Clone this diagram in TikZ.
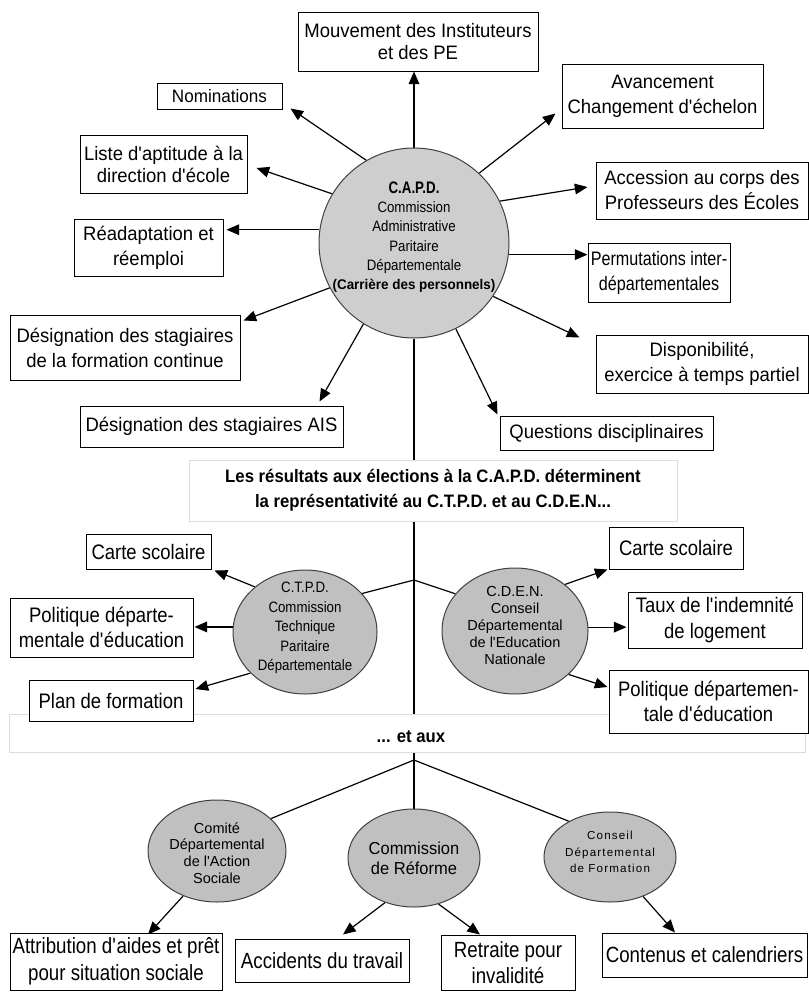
\documentclass[tikz,border=0pt]{standalone}
\usepackage{fontspec}
\setmainfont{Liberation Sans}
\newfontfamily\topf[FakeStretch=0.95]{Liberation Sans}
\newfontfamily\permf[FakeStretch=0.83]{Liberation Sans}
\newfontfamily\narf[FakeStretch=0.88]{Liberation Sans}
\newfontfamily\botf[FakeStretch=0.85]{Liberation Sans}
\newfontfamily\condf[FakeStretch=0.8]{Liberation Sans}
\newfontfamily\condg[FakeStretch=0.93]{Liberation Sans}
\newfontfamily\capdb[FakeStretch=0.96]{Liberation Sans}
\newfontfamily\spacedf[LetterSpace=10]{Liberation Sans}
\newcommand\ap{\textquotesingle}
\usetikzlibrary{arrows.meta,shapes.geometric,calc}
\pgfdeclarelayer{bg}
\pgfsetlayers{bg,main}
\definecolor{capdgray}{RGB}{206,206,206}
\definecolor{ellgray}{RGB}{192,192,192}
\definecolor{bannerline}{RGB}{220,220,220}
\tikzset{
  boxbase/.style={draw=black, line width=0.75pt, fill=white, inner sep=0pt, align=center},
  topbox/.style={boxbase, font=\topf\fontsize{14.6}{18.75}\selectfont},
  midbox/.style={boxbase, font=\narf\fontsize{15.75}{19}\selectfont},
  botbox/.style={boxbase, font=\botf\fontsize{16.5}{20}\selectfont},
  ell/.style={ellipse, draw=black!75, line width=0.75pt, fill=ellgray, inner sep=0pt},
  etext/.style={align=center, inner sep=0pt},
  banner/.style={draw=bannerline, line width=0.75pt, fill=white, inner sep=0pt, align=center},
  arr/.style={line width=0.9pt, -{Triangle[length=9.5pt,width=8pt]}},
  ln/.style={line width=0.9pt}
}
\begin{document}
\begin{tikzpicture}[x=0.75pt,y=-0.75pt]
\useasboundingbox (0,0) rectangle (809,992);

% ---------- C.A.P.D. ----------
\node[ell, fill=capdgray, minimum width=142.5pt, minimum height=142.5pt] (capd) at (414,243) {};
\node[etext, font=\narf\fontsize{11.3}{14.5}\selectfont] (capdt) at (414,237)
  {{\condf\bfseries\fontsize{12.5}{14.5}\selectfont C.A.P.D.}\\Commission\\Administrative\\Paritaire\\Départementale\\{\capdb\bfseries\fontsize{10.5}{14.5}\selectfont(Carrière des personnels)}};

\node[topbox, minimum width=180pt, minimum height=44.25pt, font=\topf\fontsize{14.6}{16.5}\selectfont] (mouv) at (418,41.5) {Mouvement des Instituteurs\\et des PE};
\node[topbox, minimum width=93.75pt, minimum height=19.5pt, font=\topf\fontsize{13.5}{16}\selectfont] (nomin) at (219.5,96) {Nominations};
\node[topbox, minimum width=125.25pt, minimum height=43.5pt, font=\topf\fontsize{14.6}{16.5}\selectfont] (liste) at (163.5,164) {Liste d\ap aptitude à la\\direction d\ap école};
\node[topbox, minimum width=111.75pt, minimum height=42.75pt] (read) at (148.5,247.5) {Réadaptation et\\réemploi};
\node[topbox, minimum width=172.5pt, minimum height=48.75pt] (formc) at (125,347.5) {Désignation des stagiaires\\de la formation continue};
\node[topbox, minimum width=197.25pt, minimum height=30.75pt] (ais) at (211.5,426.5) {Désignation des stagiaires AIS};
\node[topbox, minimum width=150.75pt, minimum height=48pt] (avanc) at (662.5,96) {Avancement\\Changement d\ap échelon};
\node[topbox, minimum width=159pt, minimum height=42.75pt] (access) at (702,190.5) {Accession au corps des\\Professeurs des Écoles};
\node[topbox, minimum width=106.5pt, minimum height=44.25pt, font=\permf\fontsize{14.6}{18.75}\selectfont] (perm) at (659,272.5) {Permutations inter-\\départementales};
\node[topbox, minimum width=159pt, minimum height=43.5pt] (dispo) at (702,364) {Disponibilité,\\exercice à temps partiel};
\node[topbox, minimum width=159.75pt, minimum height=25.5pt] (quest) at (606.5,433) {Questions disciplinaires};

% ---------- banner 1 ----------
\node[banner, minimum width=366pt, minimum height=45.75pt, font=\condg\bfseries\fontsize{13.5}{18.75}\selectfont] (ban1) at (433,490.5)
  {Les résultats aux élections à la C.A.P.D. déterminent\\la représentativité au C.T.P.D. et au C.D.E.N...};

% ---------- C.T.P.D. / C.D.E.N. ----------
\coordinate (j1) at (414,580);
\node[ell, minimum width=108pt, minimum height=93pt] (ctpd) at (305,632) {};
\node[etext, font=\narf\fontsize{11.3}{14.6}\selectfont] (ctpdt) at (305,628)
  {C.T.P.D.\\Commission\\Technique\\Paritaire\\Départementale};
\node[ell, minimum width=109.5pt, minimum height=94.5pt] (cden) at (515,631) {};
\node[etext, font=\fontsize{10.9}{12.75}\selectfont] (cdent) at (515,625)
  {C.D.E.N.\\Conseil\\Départemental\\de l\ap Education\\Nationale};

% ---------- banner 2 ----------
\node[banner, minimum width=597pt, minimum height=28.5pt] (ban2) at (407,733) {};
\node[etext, font=\condg\bfseries\fontsize{13.5}{16}\selectfont] (ban2t) at (411,737) {... et aux};

\node[midbox, minimum width=93.75pt, minimum height=26.25pt] (carteL) at (148.5,551.5) {Carte scolaire};
\node[midbox, minimum width=137.25pt, minimum height=44.25pt] (polL) at (101.5,627.5) {Politique départe-\\mentale d\ap éducation};
\node[midbox, minimum width=123pt, minimum height=30.75pt] (plan) at (111,700.5) {Plan de formation};
\node[midbox, minimum width=100.5pt, minimum height=31.5pt] (carteR) at (676,548) {Carte scolaire};
\node[midbox, minimum width=130.5pt, minimum height=42pt] (taux) at (715,620) {Taux de l\ap indemnité\\de logement};
\node[midbox, minimum width=149.25pt, minimum height=47.25pt] (polR) at (708.5,701.5) {Politique départemen-\\tale d\ap éducation};

% ---------- bottom ----------
\coordinate (j2) at (414,760);
\node[ell, minimum width=103.5pt, minimum height=76.5pt] (comite) at (217,851) {};
\node[etext, font=\fontsize{10.9}{12.5}\selectfont] (comitet) at (217,853)
  {Comité\\Départemental\\de l\ap Action\\Sociale};
\node[ell, minimum width=99pt, minimum height=73.5pt] (reforme) at (414,858) {};
\node[etext, font=\topf\fontsize{13}{15}\selectfont] (reformet) at (414,858)
  {Commission\\de Réforme};
\node[ell, minimum width=99pt, minimum height=67.5pt] (conseil) at (610,857) {};
\node[etext, font=\spacedf\fontsize{8.7}{12.4}\selectfont] (conseilt) at (610,852)
  {Conseil\\Départemental\\de Formation};

\node[botbox, minimum width=159pt, minimum height=42.75pt] (attrib) at (116,961.5) {Attribution d\ap aides et prêt\\pour situation sociale};
\node[botbox, minimum width=130.5pt, minimum height=32.25pt] (accid) at (322,960.5) {Accidents du travail};
\node[botbox, minimum width=100.5pt, minimum height=41.25pt] (retr) at (508,962.5) {Retraite pour\\invalidité};
\node[botbox, minimum width=153.75pt, minimum height=33pt] (cont) at (704.5,955) {Contenus et calendriers};

% ---------- connectors ----------
\begin{pgfonlayer}{bg}
\draw[ln] (capd.south) -- (j1) -- (j2) -- (reforme.north);
\draw[ln] (ctpd.34) -- (j1) -- (cden.148);
\draw[ln] (comite.31) -- (j2) -- (conseil.139);

\draw[arr] (capd.north) -- (capd.north |- mouv.south);
\draw[arr] (capd.120) -- ($(nomin.south east)+(8,-1)$);
\draw[arr] (capd.149) -- ($(liste.east)+(9,4)$);
\draw[arr] (capd.172) -- ($(read.east |- capd.172)+(3,0)$);
\draw[arr] (capd.208) -- ($(formc.north east)+(3,6)$);
\draw[arr] (capd.238) -- ($(ais.north east)+(-24,-4)$);
\draw[arr] (capd.47) -- ($(avanc.south west)+(-6,-15)$);
\draw[arr] (capd.26) -- ($(access.west)+(-8,-3.5)$);
\draw[arr] (capd.353) -- (perm.west |- capd.353);
\draw[arr] (capd.326) -- ($(dispo.north west)+(-16,3)$);
\draw[arr] (capd.296) -- ($(quest.north west)+(-2,-1)$);

\draw[arr] (ctpd.138) -- ($(carteL.south east)+(3,1)$);
\draw[arr] (ctpd.176) -- ($(polL.east |- ctpd.176)+(1,0)$);
\draw[arr] (ctpd.217) -- ($(plan.east)+(2,-11.5)$);
\draw[arr] (cden.43) -- ($(carteR.south west)+(-1,0)$);
\draw[arr] (cden.3) -- ($(taux.west |- cden.3)+(-1,0)$);
\draw[arr] (cden.321) -- ($(polR.west)+(-1,-14.5)$);

\draw[arr] (comite.233) -- ($(attrib.north)+(32,2)$);
\draw[arr] (reforme.237) -- ($(accid.north)+(21,-4)$);
\draw[arr] (reforme.298) -- ($(retr.north)+(-28,0)$);
\draw[arr] (conseil.310) -- ($(cont.north)+(-29.5,0)$);
\end{pgfonlayer}
\end{tikzpicture}
\end{document}
